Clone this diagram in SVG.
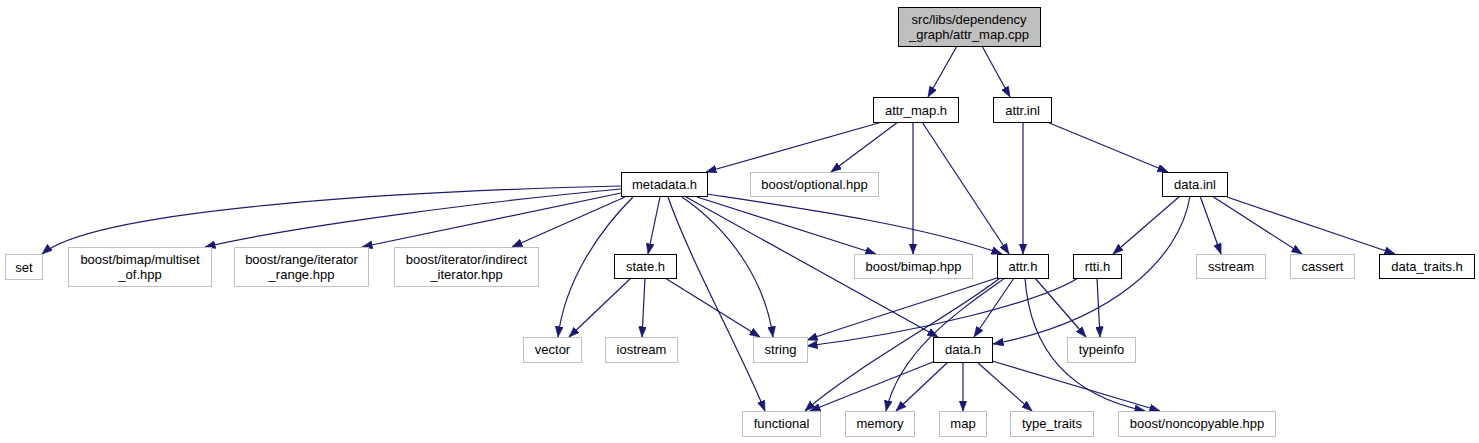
<svg xmlns="http://www.w3.org/2000/svg" width="1479" height="443" viewBox="0 0 1479 443">
<defs>
<style>
text{font-family:"Liberation Sans",Arial,sans-serif;font-size:13px;fill:#000;text-anchor:middle}
.n rect{fill:#fff;stroke:#000;stroke-width:1}
.g rect{fill:#fff;stroke:#bfbfbf;stroke-width:1}
.root rect{fill:#bfbfbf;stroke:#000;stroke-width:1}
#edges path{fill:none;stroke:#191970;stroke-width:1.2;marker-end:url(#arr)}
</style>
<marker id="arr" markerUnits="userSpaceOnUse" markerWidth="11" markerHeight="8" refX="10.5" refY="4" orient="auto">
<path d="M0,0 L10.5,4 L0,8 z" fill="#191970" stroke="#191970" stroke-width="0.5"/>
</marker>
</defs>
<rect width="1479" height="443" fill="#fff"/>
<g id="edges">
<path d="M957,46 L928,97"/>
<path d="M982,46 L1010,97"/>
<path d="M882,122 L706,172"/>
<path d="M898,122 L831,172"/>
<path d="M913,122 L913,254"/>
<path d="M922,122 L1009,254"/>
<path d="M1023,122 L1023,254"/>
<path d="M1047,122 L1168,172"/>
<path d="M621,186 C450,190 100,205 42,254"/>
<path d="M621,189 C500,200 300,225 205,247"/>
<path d="M621,193 L362,247"/>
<path d="M625,197 L512,247"/>
<path d="M633,197 C600,230 565,280 558,337"/>
<path d="M660,197 L648,254"/>
<path d="M668,197 C690,260 740,350 765,411"/>
<path d="M682,197 C730,230 765,280 773,337"/>
<path d="M686,197 L938,337"/>
<path d="M697,197 L876,254"/>
<path d="M707,194 C800,208 920,225 1002,254"/>
<path d="M1000,277 C930,300 860,322 807,340"/>
<path d="M1000,278 C960,310 850,370 805,411"/>
<path d="M1005,278 C960,310 900,350 886,411"/>
<path d="M1014,278 L974,337"/>
<path d="M1035,278 L1086,337"/>
<path d="M1025,278 C1030,350 1070,395 1145,411"/>
<path d="M1078,278 C1040,302 920,332 807,346"/>
<path d="M1097,278 L1100,337"/>
<path d="M1180,196 L1113,254"/>
<path d="M1190,196 C1180,260 1110,322 993,344"/>
<path d="M1200,196 L1221,254"/>
<path d="M1212,196 L1302,254"/>
<path d="M1227,197 L1395,254"/>
<path d="M631,278 L569,337"/>
<path d="M645,278 L642,337"/>
<path d="M665,278 L760,337"/>
<path d="M933,362 L810,411"/>
<path d="M948,362 L896,411"/>
<path d="M963,362 L963,411"/>
<path d="M977,362 L1032,411"/>
<path d="M992,361 L1160,411"/>
</g>
<g id="node-root" class="root"><rect x="898.5" y="7.5" width="142" height="39"/><text x="969" y="24">src/libs/dependency</text><text x="969" y="39">_graph/attr_map.cpp</text></g>
<g id="node-attr_map_h" class="n"><rect x="873.5" y="97.5" width="85" height="25"/><text x="916" y="114.5">attr_map.h</text></g>
<g id="node-attr_inl" class="n"><rect x="993.5" y="97.5" width="58" height="25"/><text x="1022.5" y="114.5">attr.inl</text></g>
<g id="node-metadata_h" class="n"><rect x="621.5" y="172.5" width="86" height="24"/><text x="664.5" y="189">metadata.h</text></g>
<g id="node-optional" class="g"><rect x="750.5" y="172.5" width="128" height="24"/><text x="814.5" y="189">boost/optional.hpp</text></g>
<g id="node-data_inl" class="n"><rect x="1162.5" y="172.5" width="65" height="24"/><text x="1195" y="189">data.inl</text></g>
<g id="node-set" class="g"><rect x="5.5" y="254.5" width="37" height="25"/><text x="24" y="271.5">set</text></g>
<g id="node-multiset" class="g"><rect x="68.5" y="247.5" width="143" height="39"/><text x="140" y="264">boost/bimap/multiset</text><text x="140" y="279">_of.hpp</text></g>
<g id="node-iterator_range" class="g"><rect x="234.5" y="247.5" width="134" height="39"/><text x="301.5" y="264">boost/range/iterator</text><text x="301.5" y="279">_range.hpp</text></g>
<g id="node-indirect" class="g"><rect x="394.5" y="247.5" width="144" height="39"/><text x="466.5" y="264">boost/iterator/indirect</text><text x="466.5" y="279">_iterator.hpp</text></g>
<g id="node-state_h" class="n"><rect x="614.5" y="254.5" width="62" height="24"/><text x="645.5" y="271">state.h</text></g>
<g id="node-bimap" class="g"><rect x="854.5" y="254.5" width="118" height="24"/><text x="913.5" y="271">boost/bimap.hpp</text></g>
<g id="node-attr_h" class="n"><rect x="997.5" y="254.5" width="51" height="24"/><text x="1023" y="271">attr.h</text></g>
<g id="node-rtti_h" class="n"><rect x="1073.5" y="254.5" width="48" height="24"/><text x="1097.5" y="271">rtti.h</text></g>
<g id="node-sstream" class="g"><rect x="1196.5" y="254.5" width="69" height="24"/><text x="1231" y="271">sstream</text></g>
<g id="node-cassert" class="g"><rect x="1290.5" y="254.5" width="64" height="24"/><text x="1322.5" y="271">cassert</text></g>
<g id="node-data_traits" class="n"><rect x="1379.5" y="254.5" width="95" height="24"/><text x="1427" y="271">data_traits.h</text></g>
<g id="node-vector" class="g"><rect x="523.5" y="337.5" width="58" height="25"/><text x="552.5" y="354">vector</text></g>
<g id="node-iostream" class="g"><rect x="605.5" y="337.5" width="72" height="25"/><text x="641.5" y="354">iostream</text></g>
<g id="node-string" class="g"><rect x="753.5" y="337.5" width="54" height="25"/><text x="780.5" y="354">string</text></g>
<g id="node-data_h" class="n"><rect x="933.5" y="337.5" width="59" height="25"/><text x="963" y="354">data.h</text></g>
<g id="node-typeinfo" class="g"><rect x="1067.5" y="337.5" width="68" height="25"/><text x="1101.5" y="354">typeinfo</text></g>
<g id="node-functional" class="g"><rect x="742.5" y="411.5" width="78" height="25"/><text x="781.5" y="428">functional</text></g>
<g id="node-memory" class="g"><rect x="845.5" y="411.5" width="69" height="25"/><text x="880" y="428">memory</text></g>
<g id="node-map" class="g"><rect x="939.5" y="411.5" width="47" height="25"/><text x="963" y="428">map</text></g>
<g id="node-type_traits" class="g"><rect x="1010.5" y="411.5" width="83" height="25"/><text x="1052" y="428">type_traits</text></g>
<g id="node-noncopyable" class="g"><rect x="1118.5" y="411.5" width="157" height="25"/><text x="1197" y="428">boost/noncopyable.hpp</text></g>
</svg>
